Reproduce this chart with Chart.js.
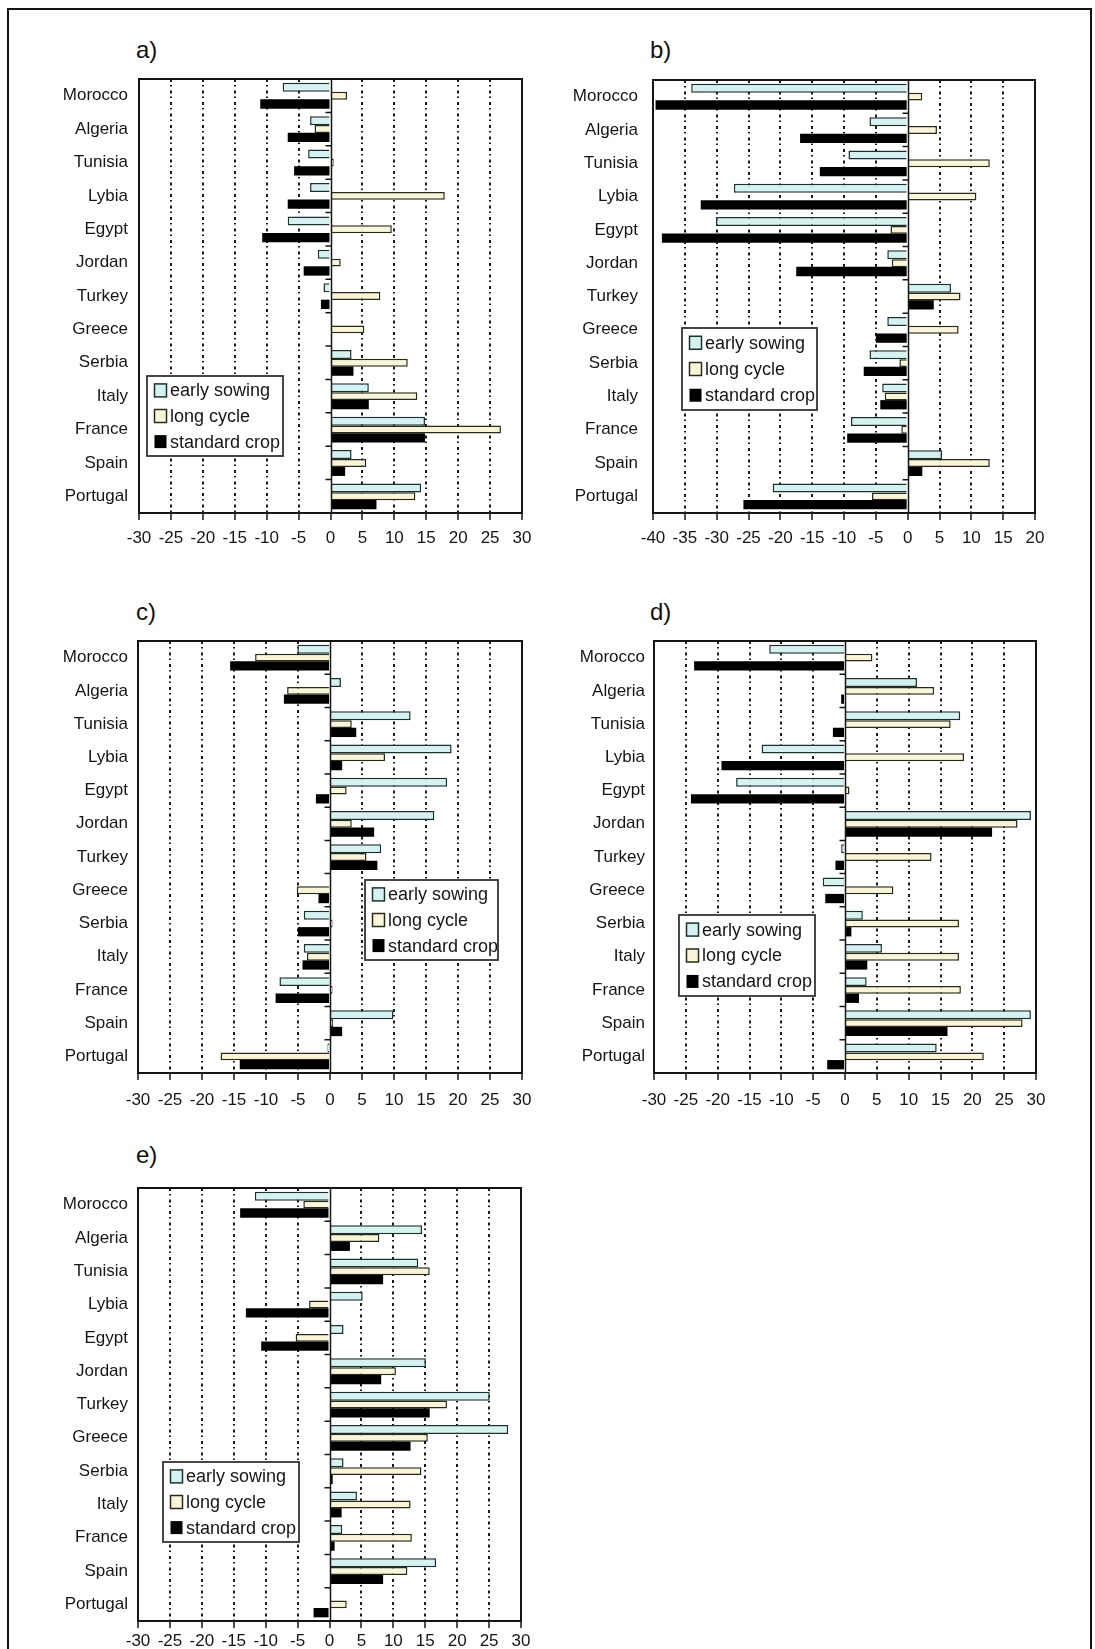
<!DOCTYPE html>
<html>
<head>
<meta charset="utf-8">
<script src="https://cdn.jsdelivr.net/npm/chart.js@4/dist/chart.umd.min.js"></script>
<style>
  html, body { margin: 0; padding: 0; background: #fff; }
  body { width: 1095px; height: 1649px; position: relative; overflow: hidden;
         font-family: "Liberation Sans", Arial, Helvetica, sans-serif; }
  #frame { position: absolute; left: 7px; top: 8px; width: 1081px; height: 1700px;
           border: 2px solid #111; border-bottom: none; }
  .panel-title { position: absolute; font-size: 24px; line-height: 24px; color: #111; }
  canvas { position: absolute; }
</style>
</head>
<body>
<div id="frame"></div>
<script>
// Countries, top to bottom
const categories = ['Morocco', 'Algeria', 'Tunisia', 'Lybia', 'Egypt', 'Jordan', 'Turkey',
                    'Greece', 'Serbia', 'Italy', 'France', 'Spain', 'Portugal'];
const seriesNames = ['early sowing', 'long cycle', 'standard crop'];

// a)
const aEarly    = [-7.5, -3.2, -3.5, -3.2, -6.7, -2.0, -1.1, 0, 3.3, 6.0, 14.8, 3.3, 14.2];
const aLong     = [2.6, -2.5, 0.5, 17.9, 9.6, 1.6, 7.8, 5.3, 12.1, 13.6, 26.7, 5.6, 13.3];
const aStandard = [-11.0, -6.7, -5.7, -6.7, -10.7, -4.2, -1.5, 0, 3.6, 6.0, 14.8, 2.3, 7.2];

// b)
const bEarly    = [-34.0, -6.0, -9.3, -27.3, -30.1, -3.2, 6.8, -3.2, -6.0, -4.0, -8.9, 5.4, -21.2];
const bLong     = [2.3, 4.6, 12.9, 10.8, -2.7, -2.5, 8.3, 8.0, -1.3, -3.6, -1.0, 12.9, -5.6];
const bStandard = [-39.6, -16.9, -13.8, -32.5, -38.6, -17.5, 4.1, -5.0, -6.9, -4.3, -9.5, 2.3, -25.8];

// c)
const cEarly    = [-5.1, 1.7, 12.6, 19.0, 18.3, 16.3, 8.0, 0, -4.1, -4.1, -7.9, 9.9, -0.4];
const cLong     = [-11.7, -6.7, 3.4, 8.6, 2.6, 3.4, 5.7, -5.2, 0.4, -3.6, 0.4, 0.5, -17.1];
const cStandard = [-15.6, -7.2, 4.1, 1.9, -2.2, 6.9, 7.4, -1.8, -5.0, -4.3, -8.5, 1.9, -14.1];

// d)
const dEarly    = [-11.9, 11.3, 18.1, -13.1, -17.1, 29.2, -0.6, -3.5, 2.8, 5.8, 3.4, 29.2, 14.4];
const dLong     = [4.3, 14.0, 16.6, 18.7, 0.7, 27.1, 13.6, 7.6, 17.9, 17.9, 18.2, 27.9, 21.8];
const dStandard = [-23.7, -0.6, -1.9, -19.4, -24.2, 23.1, -1.5, -3.1, 1.0, 3.5, 2.2, 16.1, -2.8];

// e)
const eEarly    = [-11.7, 14.5, 13.9, 5.2, 2.2, 15.1, 25.1, 28.0, 2.2, 4.3, 2.0, 16.7, 0];
const eLong     = [-4.1, 7.8, 15.7, -3.2, -5.3, 10.4, 18.4, 15.4, 14.4, 12.7, 12.9, 12.2, 2.7];
const eStandard = [-14.0, 3.2, 8.4, -13.1, -10.7, 8.1, 15.7, 12.7, 0.5, 1.9, 0.8, 8.4, -2.5];

// Axis ranges per panel
const rangeA = [-30, 30];
const rangeB = [-40, 20];
const rangeC = [-30, 30];
const rangeD = [-30, 30];
const rangeE = [-30, 30];

// Panel layout: plot box [left, top, right, bottom], legend box [left, top, w, h]
const panels = [
  { title: 'a)', titlePos: [136, 38], series: [aEarly, aLong, aStandard], range: rangeA,
    box: [139, 79, 522, 513], labelGap: 11, tickPad: 8, legend: [147, 376, 136, 80] },
  { title: 'b)', titlePos: [650, 38], series: [bEarly, bLong, bStandard], range: rangeB,
    box: [653, 80, 1035, 513], labelGap: 15, tickPad: 8, legend: [682, 328, 135, 82] },
  { title: 'c)', titlePos: [136, 600], series: [cEarly, cLong, cStandard], range: rangeC,
    box: [138, 641, 522, 1073], labelGap: 10, tickPad: 10, legend: [365, 880, 133, 80] },
  { title: 'd)', titlePos: [650, 600], series: [dEarly, dLong, dStandard], range: rangeD,
    box: [654, 641, 1036, 1073], labelGap: 9, tickPad: 10, legend: [679, 915, 136, 81] },
  { title: 'e)', titlePos: [136, 1143], series: [eEarly, eLong, eStandard], range: rangeE,
    box: [138, 1188, 521, 1621], labelGap: 10, tickPad: 3, legend: [163, 1462, 136, 80] }
];

const FONT = '"Liberation Sans", Arial, Helvetica, sans-serif';
const INK = '#151515';
const seriesStyle = [
  { backgroundColor: '#d5f2f0', borderColor: '#1d3030', borderWidth: 1.5, barPercentage: 1.08 },
  { backgroundColor: '#f8f5d8', borderColor: '#2b2a1a', borderWidth: 1.5, barPercentage: 0.95 },
  { backgroundColor: '#000000', borderColor: '#000000', borderWidth: 0, barPercentage: 1.12 }
];

const Y_AXIS_W = 135, X_AXIS_H = 45, PAD_T = 10, PAD_R = 20;

// Zero line with category ticks, plot frame and the boxed legend
const panelDecor = {
  id: 'panelDecor',
  afterDraw(chart, args, opts) {
    const { ctx, chartArea: { left, top, right, bottom }, scales: { x, y } } = chart;
    ctx.save();
    const x0 = Math.round(x.getPixelForValue(0)) + 0.5;
    ctx.strokeStyle = INK;
    ctx.lineWidth = 1.5;
    ctx.beginPath();
    ctx.moveTo(x0, top);
    ctx.lineTo(x0, bottom);
    const n = chart.data.labels.length;
    for (let i = 0; i < n - 1; i++) {
      const yy = (y.getPixelForValue(i) + y.getPixelForValue(i + 1)) / 2;
      ctx.moveTo(x0 - 6, yy);
      ctx.lineTo(x0, yy);
    }
    ctx.stroke();

    ctx.lineWidth = 2;
    ctx.strokeRect(left, top, right - left, bottom - top);

    // legend
    const [lx, ly, lw, lh] = opts.rect;
    ctx.fillStyle = '#fff';
    ctx.fillRect(lx, ly, lw, lh);
    ctx.lineWidth = 1.8;
    ctx.strokeStyle = '#333';
    ctx.strokeRect(lx, ly, lw, lh);
    ctx.font = '18px ' + FONT;
    ctx.textBaseline = 'middle';
    ctx.textAlign = 'left';
    chart.data.datasets.forEach((ds, i) => {
      const cy = ly + lh * (0.18 + 0.32 * i);
      ctx.fillStyle = ds.backgroundColor;
      ctx.fillRect(lx + 7.5, cy - 6.5, 12, 13);
      if (ds.borderWidth) {
        ctx.lineWidth = 1.5;
        ctx.strokeStyle = ds.borderColor;
        ctx.strokeRect(lx + 7.5, cy - 6.5, 12, 13);
      }
      ctx.fillStyle = INK;
      ctx.fillText(ds.label, lx + 23, cy + 1);
    });
    ctx.restore();
  }
};

function fixPadding(s) {
  s.paddingTop = 0; s.paddingBottom = 0; s.paddingLeft = 0; s.paddingRight = 0;
}

panels.forEach((p) => {
  const [L, T, R, B] = p.box;
  const cLeft = L - Y_AXIS_W, cTop = T - PAD_T;
  const cW = R + PAD_R - cLeft, cH = B + X_AXIS_H - cTop;

  const t = document.createElement('div');
  t.className = 'panel-title';
  t.style.left = p.titlePos[0] + 'px';
  t.style.top = p.titlePos[1] + 'px';
  t.textContent = p.title;
  document.body.appendChild(t);

  const cv = document.createElement('canvas');
  cv.width = cW; cv.height = cH;
  cv.style.left = cLeft + 'px';
  cv.style.top = cTop + 'px';
  cv.style.width = cW + 'px';
  cv.style.height = cH + 'px';
  document.body.appendChild(cv);

  const [xMin, xMax] = p.range;
  const legendRect = [p.legend[0] - cLeft, p.legend[1] - cTop, p.legend[2], p.legend[3]];

  new Chart(cv.getContext('2d'), {
    type: 'bar',
    data: {
      labels: categories,
      datasets: p.series.map((vals, i) => Object.assign({
        label: seriesNames[i],
        data: vals,
        categoryPercentage: 0.75
      }, seriesStyle[i]))
    },
    options: {
      indexAxis: 'y',
      responsive: false,
      animation: false,
      devicePixelRatio: 1,
      layout: { padding: { top: PAD_T, right: PAD_R, left: 0, bottom: 0 } },
      plugins: {
        legend: { display: false },
        tooltip: { enabled: false },
        panelDecor: { rect: legendRect }
      },
      scales: {
        x: {
          type: 'linear',
          min: xMin, max: xMax,
          afterFit: (s) => { s.height = X_AXIS_H; fixPadding(s); },
          ticks: { stepSize: 5, autoSkip: false, maxRotation: 0, padding: p.tickPad,
                   color: INK, font: { family: FONT, size: 17 } },
          grid: {
            drawOnChartArea: true, drawTicks: true, tickLength: 7,
            lineWidth: 2, tickWidth: 1.5, tickColor: INK, tickBorderDash: [],
            color: (ctx) => {
              const v = ctx.tick ? ctx.tick.value : null;
              return (v === 0 || v === xMin || v === xMax) ? 'rgba(0,0,0,0)' : '#1a1a1a';
            }
          },
          border: { display: false, dash: [3, 3, 1.5, 4] }
        },
        y: {
          type: 'category',
          afterFit: (s) => { s.width = Y_AXIS_W; fixPadding(s); },
          grid: { display: false, drawTicks: false, tickLength: 0 },
          border: { display: false },
          ticks: { padding: p.labelGap, color: INK, font: { family: FONT, size: 17 } }
        }
      }
    },
    plugins: [panelDecor]
  });
});
</script>
</body>
</html>
